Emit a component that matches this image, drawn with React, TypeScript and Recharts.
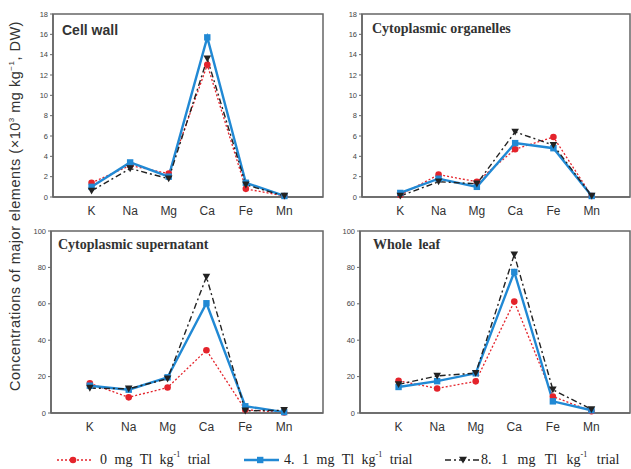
import React from 'react';
import { LineChart, Line, XAxis, YAxis, ReferenceArea } from 'recharts';

// element order on the x axis
const elements = ['K', 'Na', 'Mg', 'Ca', 'Fe', 'Mn'];
const doseLabels = ['0', '4. 1', '8. 1'];

// Cell wall
const cellWall0 = [1.4, 3.1, 2.3, 13.0, 0.8, 0.1];
const cellWall41 = [1.0, 3.4, 2.0, 15.7, 1.4, 0.1];
const cellWall81 = [0.6, 2.8, 1.8, 13.6, 1.2, 0.1];

// Cytoplasmic organelles
const organelles0 = [0.2, 2.2, 1.5, 4.7, 5.9, 0.1];
const organelles41 = [0.4, 1.8, 1.0, 5.3, 4.8, 0.1];
const organelles81 = [0.1, 1.5, 1.3, 6.4, 5.1, 0.1];

// Cytoplasmic supernatant
const supernatant0 = [16.3, 8.6, 14.0, 34.5, 1.8, 0.3];
const supernatant41 = [15.0, 12.8, 19.6, 60.3, 3.7, 0.5];
const supernatant81 = [13.7, 13.3, 18.8, 74.8, 1.2, 1.5];

// Whole leaf
const wholeLeaf0 = [17.7, 13.5, 17.4, 61.2, 9.1, 1.0];
const wholeLeaf41 = [14.3, 17.5, 21.8, 77.5, 6.4, 1.5];
const wholeLeaf81 = [15.7, 20.4, 21.9, 87.0, 12.8, 2.0];

const smallTicks = [0, 2, 4, 6, 8, 10, 12, 14, 16, 18];
const bigTicks = [0, 20, 40, 60, 80, 100];

const RED = '#e4232b';
const BLUE = '#2189d4';
const BLACK = '#222';
const AXIS = '#666';
const SERIF = 'Liberation Serif, Times New Roman, serif';
const SANS = 'Liberation Sans, Arial, sans-serif';

const buildRows = (a: number[], b: number[], c: number[]) =>
  elements.map((el, i) => ({ pos: i + 1, el, t0: a[i], t41: b[i], t81: c[i] }));

const RedDot = (p: any) => <circle key={p.index} cx={p.cx} cy={p.cy} r={3.3} fill={RED} />;
const BlueDot = (p: any) => <rect key={p.index} x={p.cx - 3.2} y={p.cy - 3.2} width={6.4} height={6.4} fill={BLUE} />;
const BlackDot = (p: any) => (
  <path key={p.index} d={`M${p.cx - 3.8},${p.cy - 3.2} L${p.cx + 3.8},${p.cy - 3.2} L${p.cx},${p.cy + 3.6} Z`} fill={BLACK} />
);

interface PanelProps {
  rows: any[];
  yMax: number;
  yTicks: number[];
  left: number;
  top: number;
  width: number;
  height: number;
  margin: { top: number; right: number; left: number; bottom: number };
  xHeight: number;
}

const Panel: React.FC<PanelProps> = ({ rows, yMax, yTicks, left, top, width, height, margin, xHeight }) => (
  <div style={{ position: 'absolute', left, top }}>
    <LineChart width={width} height={height} data={rows} margin={margin}>
      <XAxis
        type="number"
        dataKey="pos"
        domain={[0, 7]}
        ticks={[1, 2, 3, 4, 5, 6]}
        tickFormatter={(v) => elements[v - 1]}
        tickLine={false}
        tickSize={0}
        tickMargin={9}
        height={xHeight}
        axisLine={{ stroke: AXIS, strokeWidth: 1.5 }}
        tick={{ fontSize: 12, fill: '#333', fontFamily: SANS }}
      />
      <YAxis
        domain={[0, yMax]}
        ticks={yTicks}
        width={30}
        tickSize={3}
        tickMargin={2}
        interval={0}
        axisLine={{ stroke: AXIS, strokeWidth: 1.5 }}
        tickLine={{ stroke: AXIS }}
        tick={{ fontSize: 7.5, fill: '#444', fontFamily: SANS }}
      />
      <ReferenceArea x1={0} x2={7} y1={0} y2={yMax} fill="none" fillOpacity={0} stroke={AXIS} strokeWidth={1.5} ifOverflow="visible" />
      <Line dataKey="t0" stroke={RED} strokeWidth={1.3} strokeDasharray="2 2" dot={RedDot} isAnimationActive={false} />
      <Line dataKey="t41" stroke={BLUE} strokeWidth={2.4} dot={BlueDot} isAnimationActive={false} />
      <Line dataKey="t81" stroke={BLACK} strokeWidth={1.4} strokeDasharray="6 3 2 3" dot={BlackDot} isAnimationActive={false} />
    </LineChart>
  </div>
);

const titleStyle: React.CSSProperties = {
  position: 'absolute',
  color: '#333',
  whiteSpace: 'nowrap',
  lineHeight: 1,
  fontWeight: 'bold',
};

const LegendItem = ({ lineX, textX, label, color, dash, width, marker, gap = 4 }: any) => (
  <>
    <svg style={{ position: 'absolute', left: lineX, top: 453 }} width={36} height={14}>
      <line x1={0} y1={7} x2={35} y2={7} stroke={color} strokeWidth={width} strokeDasharray={dash} />
      {marker}
    </svg>
    <div style={{ position: 'absolute', left: textX, top: 451, whiteSpace: 'nowrap', fontFamily: SERIF, fontSize: 14, wordSpacing: gap, color: '#222', lineHeight: '18px' }}>
      {label} mg Tl kg<sup style={{ fontSize: 8, verticalAlign: 'top', lineHeight: 1 }}>-1</sup> trial
    </div>
  </>
);

const App: React.FC = () => {
  const cellWall = buildRows(cellWall0, cellWall41, cellWall81);
  const organelles = buildRows(organelles0, organelles41, organelles81);
  const supernatant = buildRows(supernatant0, supernatant41, supernatant81);
  const wholeLeaf = buildRows(wholeLeaf0, wholeLeaf41, wholeLeaf81);

  return (
    <div style={{ position: 'absolute', left: 0, top: 0, width: 631, height: 469, background: '#fff' }}>
      <Panel rows={cellWall} yMax={18} yTicks={smallTicks} left={0} top={0} width={330} height={225}
        margin={{ top: 14, right: 7, left: 23, bottom: 0 }} xHeight={28} />
      <Panel rows={organelles} yMax={18} yTicks={smallTicks} left={330} top={0} width={301} height={225}
        margin={{ top: 14, right: 1, left: 2, bottom: 0 }} xHeight={28} />
      <Panel rows={supernatant} yMax={100} yTicks={bigTicks} left={0} top={225} width={330} height={215}
        margin={{ top: 6, right: 7, left: 21, bottom: 0 }} xHeight={27} />
      <Panel rows={wholeLeaf} yMax={100} yTicks={bigTicks} left={330} top={225} width={301} height={215}
        margin={{ top: 6, right: 1, left: 0, bottom: 0 }} xHeight={27} />

      <div style={{ ...titleStyle, left: 62, top: 23, fontFamily: SANS, fontSize: 14 }}>
        Cell wall
      </div>
      <div style={{ ...titleStyle, left: 372, top: 22, fontFamily: SERIF, fontSize: 14 }}>
        Cytoplasmic organelles
      </div>
      <div style={{ ...titleStyle, left: 58, top: 238, fontFamily: SERIF, fontSize: 14 }}>
        Cytoplasmic supernatant
      </div>
      <div style={{ ...titleStyle, left: 373, top: 238, fontFamily: SERIF, fontSize: 14, wordSpacing: 3 }}>
        Whole leaf
      </div>

      <svg style={{ position: 'absolute', left: 0, top: 0 }} width={30} height={430}>
        <text
          transform="translate(20,206) rotate(-90)"
          textAnchor="middle"
          fontFamily={SANS}
          fontSize={14.5}
          letterSpacing={0.5}
          fill="#333"
        >
          Concentrations of major elements  (×10<tspan fontSize={8} dy={-6}>3</tspan>
          <tspan dy={6}> mg kg</tspan>
          <tspan fontSize={8} dy={-6}>−1</tspan>
          <tspan dy={6}>, DW)</tspan>
        </text>
      </svg>

      <LegendItem lineX={57} textX={100} label={doseLabels[0]} color={RED} dash="2 2" width={1.3}
        marker={<circle cx={16} cy={7} r={3.3} fill={RED} />} />
      <LegendItem lineX={244} textX={284} label={doseLabels[1]} color={BLUE} width={2.4}
        marker={<rect x={13} y={3.8} width={6.4} height={6.4} fill={BLUE} />} />
      <LegendItem lineX={445} textX={481} label={doseLabels[2]} color={BLACK} dash="6 3 2 3" width={1.4} gap={6}
        marker={<path d="M14,3.8 L22,3.8 L18,10.6 Z" fill={BLACK} />} />
    </div>
  );
};

export default App;
